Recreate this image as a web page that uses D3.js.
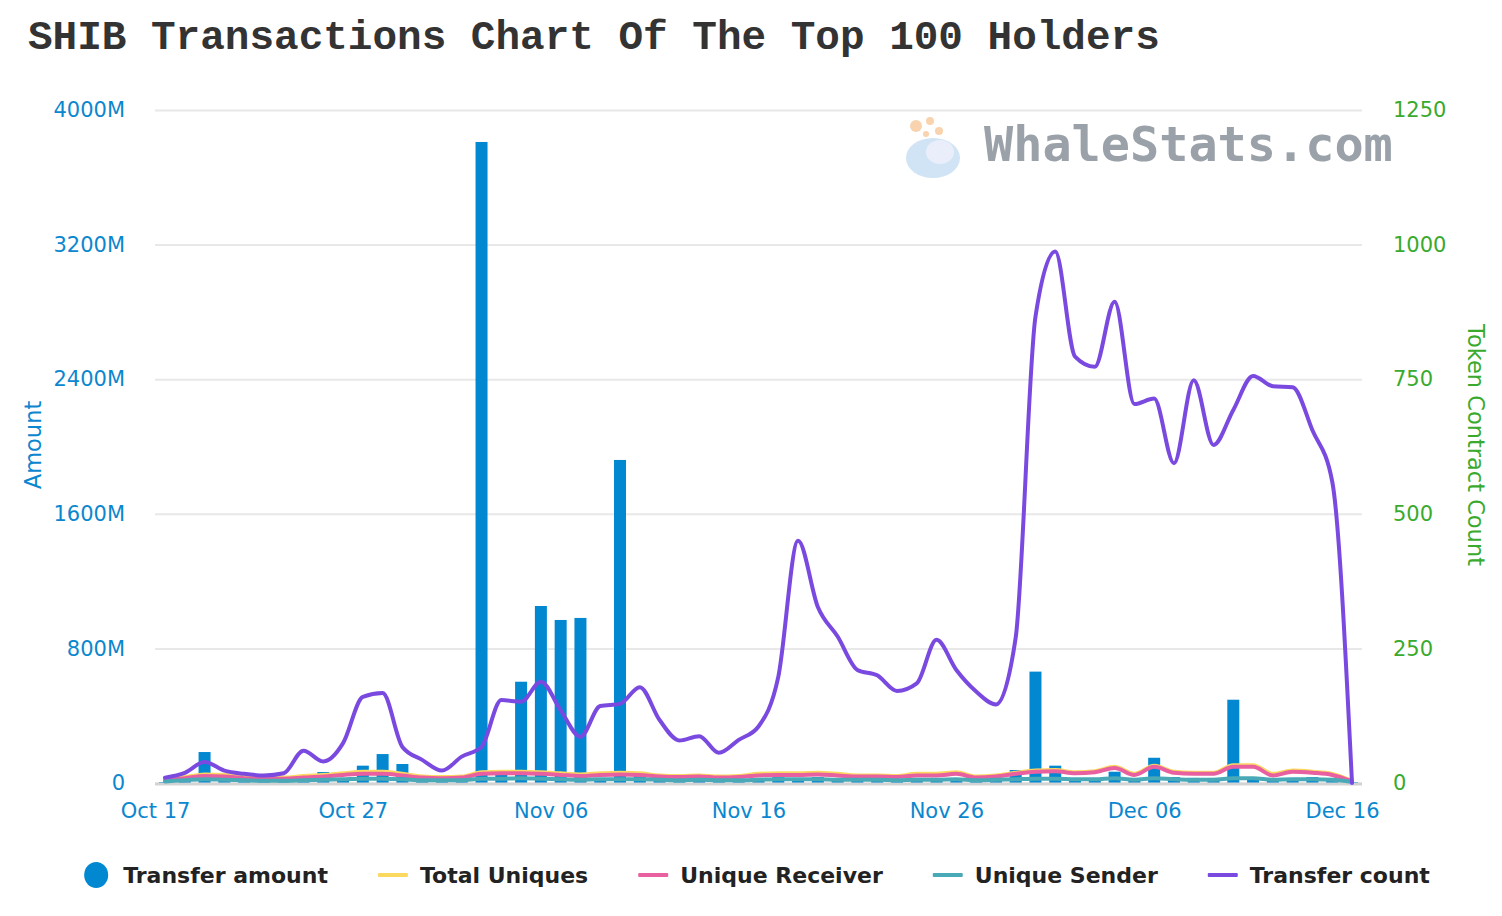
<!DOCTYPE html>
<html>
<head>
<meta charset="utf-8">
<script src="https://cdn.jsdelivr.net/npm/d3@7"></script>
<style>
  body { margin: 0; background: #fff; }
  svg { display: block; }
</style>
</head>
<body>
<svg id="chart" width="1502" height="916"></svg>
<script>
// daily points, Oct 17 -> Dec 16
const startDay = new Date(Date.UTC(2021, 9, 17));
const endDay = new Date(Date.UTC(2021, 11, 17));
const days = d3.utcDay.range(startDay, endDay);

// Transfer amount (millions of SHIB), bars on left axis
const transferAmount = [5, 20, 184, 55, 15, 10, 15, 40, 65, 25,
  103, 172, 113, 20, 15, 35, 3810, 77, 602, 1052,
  969, 981, 30, 1920, 65, 20, 25, 53, 15, 20,
  25, 35, 30, 35, 20, 15, 20, 25, 25, 30,
  20, 15, 20, 77, 662, 103, 25, 30, 67, 25,
  150, 35, 30, 30, 495, 25, 25, 30, 35, 20, 5];

// counts on right axis
const totalUniques = [6, 11, 16, 15, 12, 10, 10, 13, 15, 18,
  21, 21, 17, 12, 11, 12, 20, 21, 21, 20,
  18, 16, 18, 19, 18, 14, 13, 14, 12, 13,
  17, 18, 18, 19, 17, 14, 14, 13, 17, 17,
  20, 12, 14, 19, 23, 24, 20, 22, 30, 17,
  32, 21, 19, 19, 33, 33, 17, 23, 21, 17, 4];
const uniqueReceiver = [5, 9, 13, 12, 9, 8, 8, 10, 12, 15,
  17, 17, 14, 10, 9, 10, 17, 18, 18, 17,
  15, 13, 15, 16, 15, 12, 11, 12, 10, 11,
  14, 15, 15, 16, 14, 12, 12, 11, 14, 14,
  17, 10, 12, 17, 21, 22, 18, 20, 28, 15,
  30, 19, 17, 17, 30, 30, 14, 21, 19, 15, 3];
const uniqueSender = [3, 5, 7, 6, 5, 4, 4, 5, 6, 7,
  8, 8, 7, 5, 5, 5, 8, 8, 9, 8,
  7, 6, 7, 7, 7, 6, 5, 6, 5, 5,
  6, 7, 7, 7, 6, 6, 6, 5, 6, 6,
  7, 5, 6, 7, 8, 8, 7, 7, 9, 6,
  9, 7, 6, 6, 9, 9, 6, 7, 7, 6, 2];
const transferCount = [10, 19, 39, 23, 17, 14, 18, 60, 40, 74,
  160, 167, 67, 43, 23, 49, 67, 154, 151, 188,
  135, 86, 143, 147, 178, 117, 79, 87, 56, 80,
  105, 197, 450, 327, 272, 210, 200, 171, 185, 266,
  210, 170, 146, 270, 866, 987, 792, 773, 894, 704,
  714, 594, 748, 628, 693, 756, 737, 735, 655, 560, 0];

const leftTicks = [0, 800, 1600, 2400, 3200, 4000];
const rightTicks = [0, 250, 500, 750, 1000, 1250];
const xTickDays = d3.utcDay.range(startDay, endDay, 10); // Oct 17, Oct 27 ... Dec 16

const series = [
  {name: "Total Uniques", values: totalUniques, color: "#fbd961"},
  {name: "Unique Receiver", values: uniqueReceiver, color: "#e8609f"},
  {name: "Unique Sender", values: uniqueSender, color: "#4aa9b6"},
  {name: "Transfer count", values: transferCount, color: "#7a4ae0"}
];

const blue = "#0b87cf", green = "#3aaa2e";
const margin = {top: 110, right: 140, bottom: 133, left: 155};
const W = 1502, H = 916;

const svg = d3.select("#chart");

// title
svg.append("text")
  .attr("x", 28).attr("y", 49)
  .style("font-family", "'Liberation Mono', monospace")
  .style("font-weight", "bold")
  .style("font-size", "41px")
  .attr("fill", "#333")
  .text("SHIB Transactions Chart Of The Top 100 Holders");

const x = d3.scaleUtc()
  .domain([days[0], days[days.length - 1]])
  .range([margin.left + 10, W - margin.right - 10]);
const yL = d3.scaleLinear().domain([0, 4000]).range([H - margin.bottom, margin.top]);
const yR = d3.scaleLinear().domain([0, 1250]).range([H - margin.bottom, margin.top]);

// grid
svg.append("g")
  .attr("class", "grid")
  .attr("transform", "translate(" + margin.left + ",0)")
  .call(d3.axisLeft(yL).tickValues(leftTicks).tickSize(-(W - margin.left - margin.right)).tickFormat(""))
  .call(g => g.select(".domain").remove())
  .call(g => g.selectAll("line").attr("stroke", "#e8e8e8").attr("stroke-width", 2));

// watermark
const wm = svg.append("g");
wm.append("ellipse").attr("cx", 933).attr("cy", 158).attr("rx", 27).attr("ry", 20)
  .attr("fill", "#c6ddf3").attr("opacity", 0.8);
wm.append("ellipse").attr("cx", 940).attr("cy", 152).attr("rx", 14).attr("ry", 12)
  .attr("fill", "#e9eefa");
[[916, 126, 6], [930, 121, 4], [939, 131, 4], [926, 134, 3]].forEach(c =>
  wm.append("circle").attr("cx", c[0]).attr("cy", c[1]).attr("r", c[2]).attr("fill", "#f6c89a").attr("opacity", 0.8));
svg.append("text")
  .attr("x", 984).attr("y", 161)
  .style("font-family", "'DejaVu Sans Mono', monospace")
  .style("font-weight", "bold")
  .style("font-size", "48.5px")
  .attr("fill", "#9aa1a8")
  .text("WhaleStats.com");

// left axis labels
svg.append("g")
  .attr("transform", "translate(" + (margin.left - 30) + ",0)")
  .call(d3.axisLeft(yL).tickValues(leftTicks).tickSize(0).tickPadding(0)
    .tickFormat(d => d === 0 ? "0" : d + "M"))
  .call(g => g.select(".domain").remove())
  .call(g => g.selectAll("text").attr("fill", blue)
    .style("font-family", "'DejaVu Sans', sans-serif").style("font-size", "21px"));

// right axis labels
svg.append("g")
  .attr("transform", "translate(" + (W - margin.right + 31) + ",0)")
  .call(d3.axisRight(yR).tickValues(rightTicks).tickSize(0).tickPadding(0).tickFormat(d3.format("d")))
  .call(g => g.select(".domain").remove())
  .call(g => g.selectAll("text").attr("fill", green)
    .style("font-family", "'DejaVu Sans', sans-serif").style("font-size", "21px"));

// axis titles
svg.append("text")
  .attr("transform", "translate(41,445) rotate(-90)")
  .attr("text-anchor", "middle")
  .attr("fill", blue)
  .style("font-family", "'DejaVu Sans', sans-serif").style("font-size", "22.5px")
  .text("Amount");
svg.append("text")
  .attr("transform", "translate(1468,445) rotate(90)")
  .attr("text-anchor", "middle")
  .attr("fill", green)
  .style("font-family", "'DejaVu Sans', sans-serif").style("font-size", "22.5px")
  .text("Token Contract Count");

// bars
svg.append("g").selectAll("rect")
  .data(days)
  .join("rect")
  .attr("x", (d, i) => x(d) - 6)
  .attr("width", 12)
  .attr("y", (d, i) => yL(transferAmount[i]))
  .attr("height", (d, i) => yL(0) - yL(transferAmount[i]))
  .attr("fill", "#0288d1");

// x axis baseline + labels
svg.append("line")
  .attr("x1", margin.left).attr("x2", W - margin.right)
  .attr("y1", yL(0) + 1).attr("y2", yL(0) + 1)
  .attr("stroke", "#d3d3d3").attr("stroke-width", 3);

svg.append("g")
  .attr("transform", "translate(-10," + (H - margin.bottom + 20) + ")")
  .call(d3.axisBottom(x).tickValues(xTickDays).tickSize(0).tickPadding(0).tickFormat(d3.utcFormat("%b %d")))
  .call(g => g.select(".domain").remove())
  .call(g => g.selectAll("text").attr("fill", blue)
    .style("font-family", "'DejaVu Sans', sans-serif").style("font-size", "21px"));

// lines
const line = d3.line()
  .x((d, i) => x(days[i]))
  .y(d => yR(d))
  .curve(d3.curveMonotoneX);

svg.append("g").selectAll("path")
  .data(series)
  .join("path")
  .attr("d", s => line(s.values))
  .attr("fill", "none")
  .attr("stroke", s => s.color)
  .attr("stroke-width", 4)
  .attr("stroke-linejoin", "round")
  .attr("stroke-linecap", "round");

// legend
const legendItems = [{name: "Transfer amount", color: "#0288d1", type: "circle"}]
  .concat(series.map(s => ({name: s.name, color: s.color, type: "line"})));
const legend = svg.append("g");
let lx = 0;
legendItems.forEach((item, i) => {
  const g = legend.append("g").attr("transform", "translate(" + lx + ",0)");
  let textX;
  if (item.type == "circle") {
    g.append("ellipse").attr("cx", 12).attr("cy", 0).attr("rx", 12).attr("ry", 13).attr("fill", item.color);
    textX = 39;
  } else {
    g.append("rect").attr("x", 0).attr("y", -2).attr("width", 30).attr("height", 4).attr("rx", 1)
      .attr("fill", item.color);
    textX = 42;
  }
  const t = g.append("text")
    .attr("x", textX).attr("y", 8)
    .attr("fill", "#222")
    .style("font-family", "'DejaVu Sans', sans-serif")
    .style("font-weight", "bold")
    .style("font-size", "22px")
    .text(item.name);
  lx += textX + t.node().getComputedTextLength() + 50;
});
const legendW = lx - 50;
legend.attr("transform", "translate(" + (757 - legendW / 2) + ",875)");
</script>
</body>
</html>
